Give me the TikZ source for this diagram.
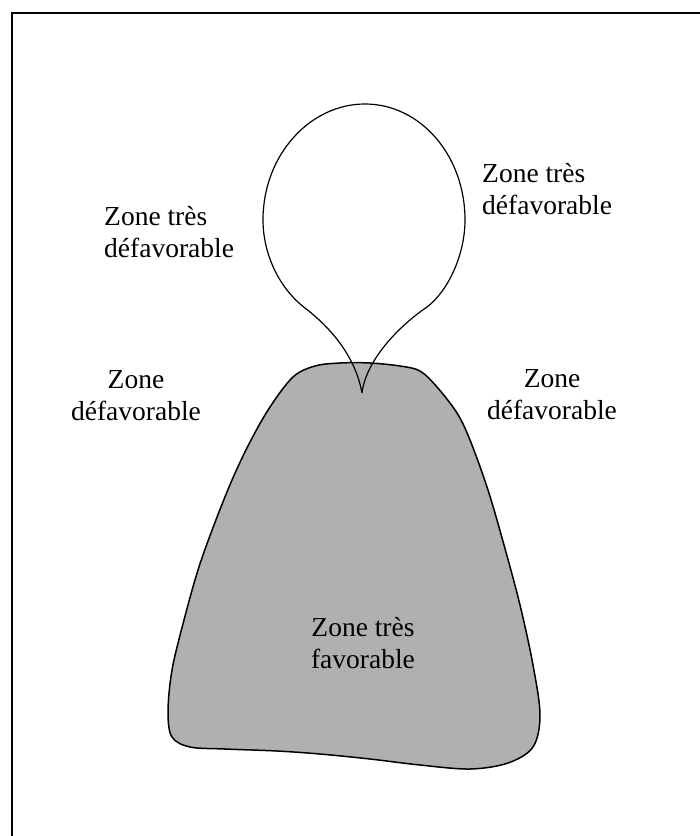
\documentclass[tikz,border=0pt]{standalone}
\usepackage{fontspec}
\setmainfont{Liberation Serif}
\definecolor{zonegray}{RGB}{176,176,176}
\begin{document}
\begin{tikzpicture}[x=1pt,y=-1pt,
  lbl/.style={inner sep=0pt, font=\fontsize{27.5}{32}\selectfont},
  frameline/.style={line width=1.6pt},
  outline/.style={line width=1.5pt, line join=round},
  loopline/.style={line width=1.2pt}]
\useasboundingbox (0,0) rectangle (700,836);
\fill[white] (0,0) rectangle (700,836);
% frame (top and left edges only)
\coordinate (ftl) at (12,13);
\coordinate (ftr) at (700,13);
\coordinate (fbl) at (12,836);
\draw[frameline] (ftr) -- (ftl) -- (fbl);
% grey zone
\draw[outline, fill=zonegray] plot[smooth cycle, tension=0.55] coordinates {
  (293,377) (315,366) (340,363) (370,363) (400,366) (420,371)
  (437,387) (457,413) (470,440) (488,490) (504,545) (520,605)
  (533,665) (540,715) (533,747) (508,763) (470,769) (420,765)
  (370,759) (320,754) (277,751) (225,749) (190,747) (172,737)
  (168,712) (172,670) (184,620) (198,570) (214,525) (232,480)
  (250,442) (270,407)};
% loop
\coordinate (cusp) at (362,393);
\coordinate (nl) at (305,308);
\coordinate (wl) at (263,220);
\coordinate (top) at (365,104);
\coordinate (wr) at (465,220);
\coordinate (nr) at (427,307);
\draw[loopline] (cusp) .. controls (357,365) and (340,335) .. (nl)
  .. controls (280,289) and (263,255) .. (wl)
  .. controls (263,155) and (310,104) .. (top)
  .. controls (420,104) and (465,155) .. (wr)
  .. controls (465,255) and (448,291) .. (nr)
  .. controls (399,326) and (366,360) .. (cusp);
% labels
\node[lbl, anchor=west, align=left] (ltd) at (104,232) {Zone très\\défavorable};
\node[lbl, anchor=west, align=left] (rtd) at (482,189) {Zone très\\défavorable};
\node[lbl, align=center] (lmd) at (136,396) {Zone\\défavorable};
\node[lbl, align=center] (rmd) at (552,395) {Zone\\défavorable};
\node[lbl, align=center] (ctf) at (363,643) {Zone très\\favorable};
\end{tikzpicture}
\end{document}
